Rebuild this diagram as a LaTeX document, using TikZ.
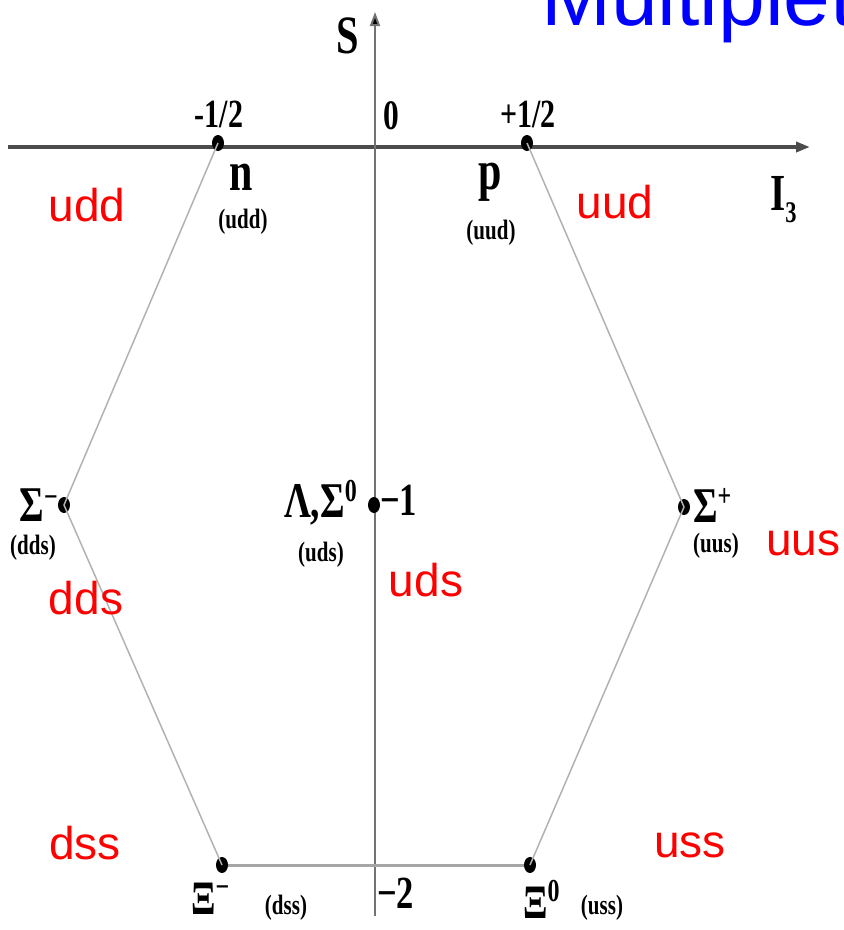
\documentclass[tikz,border=0pt]{standalone}
\usepackage{fontspec}
\setmainfont{Liberation Serif}
\newfontfamily\sansf{Liberation Sans}
\usetikzlibrary{arrows.meta,shapes.geometric}
\newcommand\cz[2]{\scalebox{0.75}[1]{\fontsize{#1}{#1}\selectfont #2}}
\newcommand\upx[2]{\raisebox{#1}{\cz{32}{#2}}}
\begin{document}
\begin{tikzpicture}[x=1pt,y=-1pt,
  axis/.style={draw=black!70, line width=3.5pt, -{Triangle[length=14pt,width=10pt,fill=black]}},
  axisv/.style={draw=black!55, line width=2pt, -{Triangle[length=14pt,width=10pt,fill=black]}},
  dot/.style={fill=black, ellipse, minimum width=12pt, minimum height=16pt, inner sep=0pt},
  hex/.style={draw=black!30, line width=1.5pt},
  hexb/.style={draw=black!35, line width=3pt},
  lab/.style={inner sep=0pt, text=black, font=\bfseries},
  quark/.style={inner sep=0pt, text=red, font=\sansf\fontsize{46}{46}\selectfont},
  small/.style={inner sep=0pt, text=black, font=\bfseries}]
\useasboundingbox (0,0) rectangle (844,930);
% title
\node[anchor=base west, inner sep=0pt, text=blue, font=\sansf\fontsize{84}{84}\selectfont] (title) at (541,25) {Multiplet};
% axes
\coordinate (xl) at (8,147);
\coordinate (xr) at (810,147);
\coordinate (yb) at (375,916);
\coordinate (yt) at (375,12);
\draw[axis] (xl) -- (xr);
\draw[axisv] (yb) -- (yt);
% dots
\node[dot] (n) at (218,143) {};
\node[dot] (p) at (527,143) {};
\node[dot] (sm) at (64,505) {};
\node[dot] (lam) at (374,505) {};
\node[dot] (sp) at (684,507) {};
\node[dot] (xm) at (222,865) {};
\node[dot] (x0) at (530,865) {};
% hexagon
\draw[hex] (n.center) -- (sm.center) -- (xm.center);
\draw[hex] (x0.center) -- (sp.center) -- (p.center);
\draw[hexb] (xm) -- (x0);
% axis labels
\node[lab] (S) at (348,36) {\cz{54}{S}};
\node[lab, anchor=west] (I3) at (770,200) {\cz{52}{I}\raisebox{-12pt}{\cz{30}{3}}};
\node[lab] (mh) at (219,114) {\cz{40}{-1/2}};
\node[lab] (zero) at (391,116) {\cz{42}{0}};
\node[lab] (ph) at (528,114) {\cz{40}{+1/2}};
\node[lab, anchor=west] (m1) at (380,500) {\cz{46}{−1}};
\node[lab, anchor=west] (m2) at (377,893) {\cz{46}{−2}};
% particle labels
\node[lab] (nl) at (241,177) {\cz{56}{n}};
\node[small] (nq) at (243,222) {\cz{28}{(udd)}};
\node[lab] (pl) at (490,182) {\cz{56}{p}};
\node[small] (pq) at (491,233) {\cz{28}{(uud)}};
\node[lab, anchor=east] (sml) at (58,505) {\cz{50}{Σ}\upx{14pt}{−}};
\node[small] (smq) at (33,548) {\cz{28}{(dds)}};
\node[lab, anchor=east] (laml) at (357,503) {\cz{50}{Λ,Σ}\upx{16pt}{0}};
\node[small] (lamq) at (321,555) {\cz{28}{(uds)}};
\node[lab, anchor=west] (spl) at (693,505) {\cz{50}{Σ}\upx{16pt}{+}};
\node[small] (spq) at (716,546) {\cz{28}{(uus)}};
\node[lab, anchor=west] (xml) at (191,899) {\cz{48}{Ξ}\upx{17pt}{−}};
\node[small] (xmq) at (286,908) {\cz{28}{(dss)}};
\node[lab, anchor=west] (x0l) at (523,899) {\cz{48}{Ξ}\upx{17pt}{0}};
\node[small] (x0q) at (602,908) {\cz{28}{(uss)}};
% quark contents
\node[quark] (q1) at (87,205) {udd};
\node[quark] (q2) at (615,202) {uud};
\node[quark, anchor=west] (q3) at (766,543) {uus};
\node[quark] (q4) at (86,598) {dds};
\node[quark] (q5) at (426,580) {uds};
\node[quark] (q6) at (85,843) {dss};
\node[quark] (q7) at (690,845) {uss};
\end{tikzpicture}
\end{document}
